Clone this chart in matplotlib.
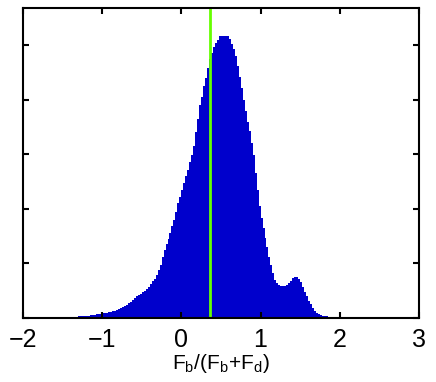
import matplotlib
matplotlib.use('Agg')
import matplotlib.pyplot as plt
import numpy as np

plt.rcParams['font.family'] = ['Liberation Sans', 'DejaVu Sans']
plt.rcParams['mathtext.fontset'] = 'custom'
plt.rcParams['mathtext.rm'] = 'Liberation Sans'

# histogram bins (width 0.025) starting at -1.6, heights in y-tick units
bin_start = -1.6
bin_width = 0.025
counts = [
    0.005, 0.005, 0.006, 0.007, 0.008, 0.010, 0.012, 0.014, 0.016, 0.018,
    0.021, 0.025, 0.028, 0.032, 0.035, 0.038, 0.042, 0.046, 0.050, 0.055,
    0.060, 0.066, 0.075, 0.082, 0.088, 0.092, 0.098, 0.105, 0.110, 0.120,
    0.130, 0.145, 0.160, 0.180, 0.200, 0.220, 0.240, 0.270, 0.300, 0.330,
    0.370, 0.400, 0.420, 0.440, 0.470, 0.500, 0.530, 0.570, 0.620, 0.670,
    0.720, 0.790, 0.880, 0.980, 1.120, 1.250, 1.350, 1.450, 1.560, 1.680,
    1.800, 1.950, 2.100, 2.220, 2.350, 2.480, 2.600, 2.720, 2.850, 2.980,
    3.150, 3.400, 3.650, 3.900, 4.050, 4.250, 4.400, 4.580, 4.750, 4.860,
    4.960, 5.030, 5.100, 5.160, 5.170, 5.170, 5.160, 5.170, 5.120, 5.020,
    4.920, 4.800, 4.620, 4.420, 4.220, 4.000, 3.800, 3.600, 3.420, 3.200,
    2.980, 2.650, 2.350, 2.050, 1.840, 1.650, 1.470, 1.300, 1.120, 0.970,
    0.820, 0.700, 0.640, 0.610, 0.590, 0.590, 0.590, 0.610, 0.640, 0.680,
    0.730, 0.760, 0.750, 0.710, 0.660, 0.570, 0.480, 0.400, 0.320, 0.250,
    0.180, 0.130, 0.100, 0.070, 0.050, 0.040, 0.035, 0.030, 0.025, 0.020,
    0.018, 0.015, 0.012, 0.010, 0.008, 0.007, 0.006, 0.005, 0.004, 0.003,
    0.003, 0.002,
]
marker_x = 0.36

xticks = [-2, -1, 0, 1, 2, 3]
yticks = [0, 1, 2, 3, 4, 5]

edges = bin_start + bin_width * np.arange(len(counts))

fig = plt.figure(figsize=(4.36, 3.82), dpi=100)
ax = fig.add_axes([0.0528, 0.1675, 0.908, 0.8115])

ax.bar(edges, counts, width=bin_width, align='edge', color='#0000cc',
       edgecolor='none', linewidth=0)
ax.axhline(0.004, xmin=0, xmax=0.92, color='#0000cc', linewidth=1)
ax.axvline(marker_x, color='#66ff00', linewidth=2)

ax.set_xlim(-2, 3)
ax.set_ylim(0, 5.68)
ax.set_xticks(xticks)
ax.set_xticklabels([str(t).replace('-', '\u2212') for t in xticks])
ax.set_yticks(yticks)
ax.set_yticklabels([])
ax.tick_params(direction='in', length=4, width=1.5, top=True, right=True,
               labelsize=18, pad=7)
for s in ax.spines.values():
    s.set_linewidth(1.5)

ax.set_xlabel(r'F$_\mathrm{b}$/(F$_\mathrm{b}$+F$_\mathrm{d}$)', fontsize=15,
              labelpad=0)

plt.savefig('out.png', dpi=100)
